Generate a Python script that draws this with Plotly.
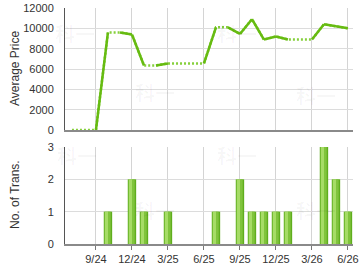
import plotly.graph_objects as go

months = ["7/24","8/24","9/24","10/24","11/24","12/24","1/25","2/25","3/25","4/25","5/25","6/25",
          "7/25","8/25","9/25","10/25","11/25","12/25","1/26","2/26","3/26","4/26","5/26","6/26"]
price = [0, 0, 0, 9600, 9600, 9400, 6350, 6350, 6550, 6550, 6550, 6550,
         10100, 10100, 9450, 10900, 8900, 9200, 8900, 8900, 8900, 10400, 10200, 10000]
trans = [0, 0, 0, 1, 0, 2, 1, 0, 1, 0, 0, 0, 1, 0, 2, 1, 1, 1, 1, 0, 0, 3, 2, 1]
tick_labels = ["9/24", "12/24", "3/25", "6/25", "9/25", "12/25", "3/26", "6/26"]

W, H = 360, 270
idx = list(range(len(months)))
tick_vals = [months.index(t) for t in tick_labels]

# solid segments: segment ending in a month with transactions
sx, sy = [], []
for i in range(1, len(months)):
    if trans[i] > 0:
        sx += [i - 1, i, None]
        sy += [price[i - 1], price[i], None]

fig = go.Figure()
fig.add_trace(go.Scatter(x=idx, y=price, mode="lines",
                         line=dict(color="#86d03c", width=2.5, dash="2px,2px"),
                         xaxis="x", yaxis="y", hoverinfo="skip"))
fig.add_trace(go.Scatter(x=sx, y=sy, mode="lines",
                         line=dict(color="#66bb11", width=2.5),
                         xaxis="x", yaxis="y", hoverinfo="skip"))

bx = [i for i in idx if trans[i] > 0]
by = [trans[i] for i in idx if trans[i] > 0]
fig.add_trace(go.Bar(x=bx, y=by, width=0.7, offset=-0.35,
                     marker=dict(color="#5fae1e", line=dict(width=0)),
                     xaxis="x2", yaxis="y2", hoverinfo="skip"))
fig.add_trace(go.Bar(x=bx, y=by, width=0.34, offset=-0.27,
                     marker=dict(color="#a6dc66", line=dict(width=0)),
                     xaxis="x2", yaxis="y2", hoverinfo="skip"))
fig.add_trace(go.Bar(x=bx, y=by, width=0.16, offset=0.07,
                     marker=dict(color="#80c43c", line=dict(width=0)),
                     xaxis="x2", yaxis="y2", hoverinfo="skip"))

xl, xr = 65 / W, 353 / W
xrange = [-0.58, 23.42]
font = dict(family="Liberation Sans, Arial, sans-serif", size=11, color="#333333")

common_x = dict(range=xrange, tickmode="array", tickvals=tick_vals, automargin=False,
                showgrid=True, gridcolor="#d4d4d4", gridwidth=1, zeroline=False,
                showline=True, linecolor="#8a8a8a", linewidth=2, fixedrange=True)

fig.update_layout(
    width=W, height=H, margin=dict(l=0, r=0, t=0, b=0, autoexpand=False),
    paper_bgcolor="white", plot_bgcolor="white", showlegend=False,
    barmode="overlay", font=font,
    xaxis=dict(domain=[xl, xr], anchor="y", showticklabels=False, ticks="", **common_x),
    yaxis=dict(domain=[1 - 130 / H, 1 - 8 / H], anchor="x", range=[0, 12000], dtick=2000,
               tickformat="d", automargin=False,
               showgrid=True, gridcolor="#dcdcdc", zeroline=False,
               showline=True, linecolor="#555555", linewidth=1,
               ticklabelstandoff=8, tickfont=font),
    xaxis2=dict(domain=[xl, xr], anchor="y2", ticktext=tick_labels, ticks="outside",
                ticklen=4, tickcolor="#777777", tickfont=font, **common_x),
    yaxis2=dict(domain=[1 - 244 / H, 1 - 147 / H], anchor="x2", range=[0, 3], dtick=1,
                automargin=False,
                showgrid=True, gridcolor="#dcdcdc", zeroline=False,
                showline=True, linecolor="#555555", linewidth=1,
                ticklabelstandoff=8, tickfont=font),
)

annos = [
    dict(text="Average Price", x=15 / W, y=1 - 69 / H),
    dict(text="No. of Trans.", x=15 / W, y=1 - 195 / H),
]
for a in annos:
    fig.add_annotation(xref="paper", yref="paper", x=a["x"], y=a["y"], text=a["text"],
                       textangle=-90, showarrow=False, xanchor="center", yanchor="middle",
                       font=dict(family="Liberation Sans, Arial, sans-serif", size=12, color="#333333"))

for (px, py) in [(75, 33), (155, 92), (237, 33), (316, 95), (77, 155), (155, 210), (237, 155), (316, 210)]:
    fig.add_annotation(xref="paper", yref="paper", x=px / W, y=1 - py / H, text="<b>科一</b>",
                       showarrow=False, xanchor="center", yanchor="middle",
                       font=dict(family="Noto Sans CJK SC", size=20, color="rgba(0,0,0,0.03)"))

fig.write_html("out.html")
